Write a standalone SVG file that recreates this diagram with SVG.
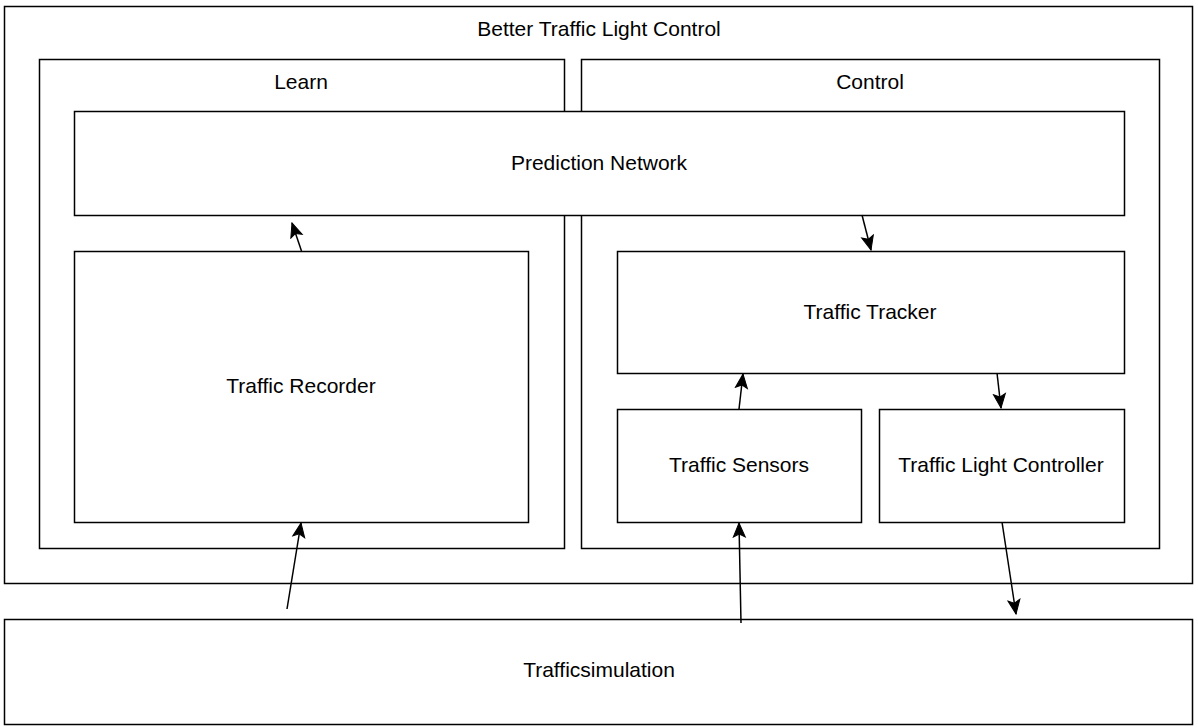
<svg xmlns="http://www.w3.org/2000/svg" width="1198" height="728" viewBox="0 0 1198 728">
<style>
.box{fill:#fff;stroke:#000;stroke-width:1.5}
.lbl{font-family:"Liberation Sans",Arial,sans-serif;font-size:21px;fill:#000;text-anchor:middle;dominant-baseline:central}
.edge{stroke:#000;stroke-width:1.5;fill:none;marker-end:url(#arr)}
</style>
<defs>
<marker id="arr" markerUnits="userSpaceOnUse" markerWidth="16" markerHeight="16" viewBox="0 0 16 16" refX="15" refY="8" orient="auto">
<path d="M1,2 L15,8 L1,14 L4,8 Z" fill="#000" stroke="#000" stroke-width="1"/>
</marker>
</defs>
<g id="better-traffic-light-control">
<rect class="box" x="4.5" y="6.5" width="1188" height="577"/>
<text class="lbl" x="599" y="28">Better Traffic Light Control</text>
</g>
<g id="learn">
<rect class="box" x="39.5" y="59.5" width="525" height="489"/>
<text class="lbl" x="301" y="81">Learn</text>
</g>
<g id="control">
<rect class="box" x="581.5" y="59.5" width="578" height="489"/>
<text class="lbl" x="870" y="81">Control</text>
</g>
<g id="prediction-network">
<rect class="box" x="74.5" y="111.5" width="1050" height="104"/>
<text class="lbl" x="599" y="162">Prediction Network</text>
</g>
<g id="traffic-recorder">
<rect class="box" x="74.5" y="251.5" width="454" height="271"/>
<text class="lbl" x="301" y="385">Traffic Recorder</text>
</g>
<g id="traffic-tracker">
<rect class="box" x="617.5" y="251.5" width="507" height="122"/>
<text class="lbl" x="870" y="311">Traffic Tracker</text>
</g>
<g id="traffic-sensors">
<rect class="box" x="617.5" y="409.5" width="244" height="113"/>
<text class="lbl" x="739" y="464">Traffic Sensors</text>
</g>
<g id="traffic-light-controller">
<rect class="box" x="879.5" y="409.5" width="245" height="113"/>
<text class="lbl" x="1001" y="464">Traffic Light Controller</text>
</g>
<g id="trafficsimulation">
<rect class="box" x="4.5" y="619.5" width="1188" height="105"/>
<text class="lbl" x="599" y="669">Trafficsimulation</text>
</g>
<g id="connectors">
<line class="edge" x1="301.5" y1="251" x2="292" y2="223"/>
<line class="edge" x1="862" y1="215" x2="871" y2="250"/>
<line class="edge" x1="739" y1="409" x2="743" y2="374"/>
<line class="edge" x1="997" y1="373" x2="1001" y2="408"/>
<line class="edge" x1="287" y1="609" x2="301" y2="523"/>
<line class="edge" x1="741" y1="623" x2="739" y2="523"/>
<line class="edge" x1="1002" y1="522" x2="1016" y2="614"/>
</g>
</svg>
